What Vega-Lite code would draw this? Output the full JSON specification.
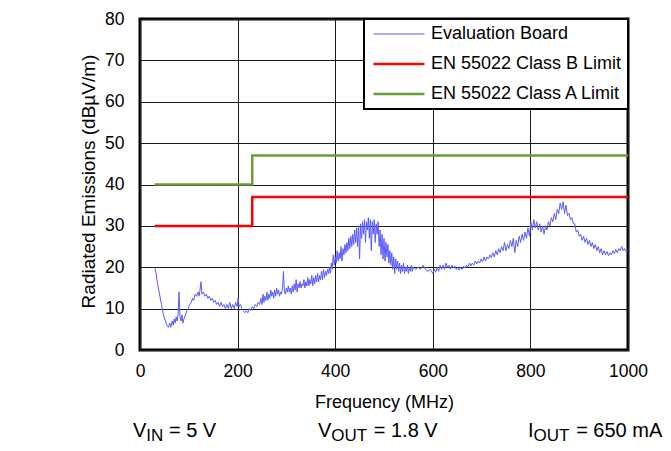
{
  "$schema": "https://vega.github.io/schema/vega-lite/v6.json",
  "width": 488,
  "height": 331,
  "autosize": {"type": "none"},
  "padding": {"left": 140, "top": 19, "right": 43, "bottom": 101},
  "background": "white",
  "config": {
    "font": "Liberation Sans",
    "view": {"stroke": "black", "strokeWidth": 3},
    "axis": {
      "labelFont": "Liberation Sans",
      "titleFont": "Liberation Sans",
      "labelFontSize": 17.5,
      "titleFontSize": 18,
      "titleFontWeight": "normal",
      "labelColor": "black",
      "titleColor": "black",
      "grid": true,
      "gridColor": "#1a1a1a",
      "gridWidth": 1,
      "gridOpacity": 1,
      "ticks": false,
      "domain": false
    },
    "legend": {
      "orient": "top-right",
      "offset": 0,
      "fillColor": "white",
      "strokeColor": "black",
      "strokeWidth": 2,
      "padding": 6,
      "symbolType": "stroke",
      "symbolSize": 2600,
      "symbolStrokeWidth": 2.5,
      "symbolOffset": 20,
      "clipHeight": 18,
      "rowPadding": 12,
      "labelOffset": 23,
      "labelFontSize": 18,
      "labelFont": "Liberation Sans",
      "labelLimit": 400,
      "labelColor": "black"
    }
  },
  "layer": [
    {
      "data": {"values": [
        {"f":30,"v":20},{"f":33,"v":18.5},{"f":36,"v":16},{"f":40,"v":13.5},{"f":44,"v":11},{"f":48,"v":8.5},{"f":52,"v":7},{"f":55,"v":6},{"f":58,"v":5.5},{"f":61,"v":6.5},{"f":63,"v":5.5},{"f":66,"v":7},{"f":68,"v":6},{"f":70,"v":7.5},{"f":72,"v":6.5},{"f":74,"v":8},{"f":76,"v":7},{"f":78,"v":8.5},{"f":80,"v":14},{"f":82,"v":8},{"f":84,"v":7},{"f":86,"v":8.5},{"f":88,"v":6.5},{"f":90,"v":7.5},{"f":93,"v":8.5},{"f":96,"v":9.5},{"f":99,"v":10},{"f":102,"v":11},{"f":105,"v":11.5},{"f":108,"v":12.5},{"f":110,"v":12},{"f":113,"v":13.5},{"f":116,"v":13},{"f":119,"v":14},{"f":121,"v":13},{"f":123,"v":14.5},{"f":125,"v":16.5},{"f":127,"v":13.5},{"f":130,"v":14},{"f":133,"v":13},{"f":136,"v":13.5},{"f":139,"v":12.5},{"f":142,"v":13},{"f":145,"v":12},{"f":148,"v":12.5},{"f":151,"v":11.5},{"f":154,"v":12},{"f":157,"v":11},{"f":160,"v":11.5},{"f":163,"v":10.5},{"f":166,"v":11.5},{"f":169,"v":10.5},{"f":172,"v":11},{"f":175,"v":10},{"f":178,"v":11},{"f":181,"v":10},{"f":184,"v":11.5},{"f":187,"v":10},{"f":190,"v":11},{"f":193,"v":10},{"f":196,"v":11.5},{"f":199,"v":10.5},{"f":201,"v":12.5},{"f":203,"v":10.5},{"f":206,"v":11},{"f":209,"v":10},{"f":212,"v":9.5},{"f":215,"v":9},{"f":218,"v":9.5},{"f":221,"v":9},{"f":224,"v":10},{"f":227,"v":9.5},{"f":230,"v":10.5},{"f":233,"v":10},{"f":236,"v":11},{"f":239,"v":10.5},{"f":242,"v":11.5},{"f":245,"v":11},{"f":248,"v":12.5},{"f":250,"v":11},{"f":252,"v":13.5},{"f":254,"v":11.5},{"f":256,"v":13},{"f":258,"v":12},{"f":260,"v":14},{"f":262,"v":12},{"f":264,"v":13.5},{"f":266,"v":12.5},{"f":268,"v":14.5},{"f":270,"v":13},{"f":272,"v":14},{"f":274,"v":12.5},{"f":276,"v":14.5},{"f":278,"v":13},{"f":280,"v":15},{"f":282,"v":13.5},{"f":284,"v":14.5},{"f":286,"v":13},{"f":288,"v":14},{"f":290,"v":13.5},{"f":292,"v":15},{"f":294,"v":19},{"f":296,"v":14},{"f":298,"v":13.5},{"f":300,"v":15},{"f":302,"v":14},{"f":304,"v":15.5},{"f":306,"v":14},{"f":308,"v":15},{"f":310,"v":13.5},{"f":312,"v":15.5},{"f":314,"v":14},{"f":316,"v":16},{"f":318,"v":14.5},{"f":320,"v":17},{"f":322,"v":14},{"f":324,"v":16},{"f":326,"v":15},{"f":328,"v":16.5},{"f":330,"v":15},{"f":332,"v":16},{"f":334,"v":15.5},{"f":336,"v":17},{"f":338,"v":15},{"f":340,"v":16.5},{"f":342,"v":15.5},{"f":344,"v":17.5},{"f":346,"v":15.5},{"f":348,"v":17},{"f":350,"v":16},{"f":352,"v":18},{"f":354,"v":15.5},{"f":356,"v":17.5},{"f":358,"v":16},{"f":360,"v":18},{"f":362,"v":16.5},{"f":364,"v":18.5},{"f":366,"v":16.5},{"f":368,"v":18},{"f":370,"v":17},{"f":372,"v":19},{"f":374,"v":17},{"f":376,"v":19.5},{"f":378,"v":17.5},{"f":380,"v":19},{"f":382,"v":18},{"f":384,"v":19.5},{"f":386,"v":18.5},{"f":388,"v":20},{"f":390,"v":18.5},{"f":392,"v":21},{"f":394,"v":19.5},{"f":396,"v":23},{"f":398,"v":20.5},{"f":400,"v":22.5},{"f":402,"v":21},{"f":404,"v":24},{"f":406,"v":21.5},{"f":408,"v":23.5},{"f":410,"v":22},{"f":412,"v":25},{"f":414,"v":21.5},{"f":416,"v":24.5},{"f":418,"v":23},{"f":420,"v":25.5},{"f":422,"v":23.5},{"f":424,"v":26},{"f":426,"v":24},{"f":428,"v":27},{"f":430,"v":24.5},{"f":432,"v":27.5},{"f":434,"v":25},{"f":436,"v":28},{"f":438,"v":25.5},{"f":440,"v":29},{"f":442,"v":26},{"f":444,"v":29.5},{"f":446,"v":25},{"f":448,"v":30},{"f":450,"v":22},{"f":452,"v":30.5},{"f":454,"v":27},{"f":456,"v":31},{"f":458,"v":28},{"f":460,"v":31.5},{"f":462,"v":26},{"f":464,"v":31},{"f":466,"v":29},{"f":468,"v":32},{"f":470,"v":27},{"f":472,"v":31.5},{"f":474,"v":24},{"f":476,"v":31},{"f":478,"v":28},{"f":480,"v":31.5},{"f":482,"v":26},{"f":484,"v":30.5},{"f":486,"v":28},{"f":488,"v":31},{"f":490,"v":25},{"f":492,"v":29},{"f":494,"v":23},{"f":496,"v":28},{"f":498,"v":22},{"f":500,"v":27},{"f":502,"v":21.5},{"f":504,"v":26},{"f":506,"v":22.5},{"f":508,"v":25.5},{"f":510,"v":21},{"f":512,"v":24},{"f":514,"v":20.5},{"f":516,"v":23.5},{"f":518,"v":19.5},{"f":520,"v":22.5},{"f":522,"v":18.5},{"f":524,"v":22},{"f":526,"v":19.5},{"f":528,"v":21.5},{"f":530,"v":19},{"f":532,"v":21},{"f":534,"v":18.5},{"f":536,"v":20.5},{"f":538,"v":19},{"f":540,"v":21},{"f":542,"v":18.5},{"f":544,"v":20},{"f":546,"v":19},{"f":548,"v":20.5},{"f":550,"v":18.5},{"f":552,"v":20},{"f":554,"v":19},{"f":556,"v":20.5},{"f":558,"v":19},{"f":560,"v":20},{"f":565,"v":19.5},{"f":570,"v":20},{"f":575,"v":19.5},{"f":580,"v":20.5},{"f":585,"v":19.5},{"f":590,"v":19},{"f":595,"v":19.5},{"f":600,"v":18.5},{"f":603,"v":19.5},{"f":606,"v":18.8},{"f":609,"v":20},{"f":612,"v":19},{"f":615,"v":20.5},{"f":618,"v":19.5},{"f":621,"v":20.5},{"f":624,"v":19.5},{"f":627,"v":21},{"f":630,"v":20},{"f":633,"v":20.5},{"f":636,"v":19.5},{"f":639,"v":20.5},{"f":642,"v":19.8},{"f":645,"v":20.3},{"f":648,"v":19.5},{"f":651,"v":20},{"f":654,"v":19.3},{"f":657,"v":20},{"f":660,"v":19.5},{"f":663,"v":20.3},{"f":666,"v":19.8},{"f":669,"v":20.5},{"f":672,"v":20},{"f":675,"v":21},{"f":678,"v":20.3},{"f":681,"v":21},{"f":684,"v":20.5},{"f":687,"v":21.5},{"f":690,"v":20.8},{"f":693,"v":21.5},{"f":696,"v":21},{"f":699,"v":22},{"f":702,"v":21.3},{"f":705,"v":22.5},{"f":708,"v":21.5},{"f":711,"v":22.5},{"f":714,"v":22},{"f":717,"v":23},{"f":720,"v":22.3},{"f":723,"v":23.5},{"f":726,"v":22.5},{"f":729,"v":24},{"f":732,"v":23},{"f":735,"v":24.5},{"f":738,"v":23.5},{"f":741,"v":25},{"f":744,"v":24},{"f":747,"v":26},{"f":750,"v":24},{"f":753,"v":25.5},{"f":756,"v":24.5},{"f":759,"v":26.5},{"f":762,"v":25},{"f":765,"v":27},{"f":768,"v":23.5},{"f":771,"v":26.5},{"f":774,"v":25},{"f":777,"v":27.5},{"f":780,"v":26},{"f":783,"v":28},{"f":786,"v":26.5},{"f":789,"v":28.5},{"f":792,"v":27},{"f":795,"v":29.5},{"f":798,"v":27.5},{"f":801,"v":31},{"f":804,"v":29},{"f":807,"v":31.5},{"f":810,"v":29.5},{"f":813,"v":31},{"f":816,"v":29},{"f":819,"v":30.5},{"f":822,"v":28.5},{"f":825,"v":30},{"f":828,"v":28},{"f":831,"v":30},{"f":834,"v":29},{"f":837,"v":31},{"f":840,"v":30},{"f":843,"v":32},{"f":846,"v":31},{"f":849,"v":33},{"f":852,"v":31.5},{"f":855,"v":34},{"f":858,"v":33},{"f":861,"v":35.5},{"f":864,"v":34},{"f":867,"v":35.8},{"f":870,"v":33},{"f":873,"v":35},{"f":876,"v":32.5},{"f":879,"v":33},{"f":882,"v":31.5},{"f":885,"v":32},{"f":888,"v":30.5},{"f":891,"v":30.5},{"f":894,"v":28.5},{"f":897,"v":29},{"f":900,"v":27.5},{"f":903,"v":28},{"f":906,"v":26.5},{"f":909,"v":27.5},{"f":912,"v":26},{"f":915,"v":27},{"f":918,"v":25.5},{"f":921,"v":26.5},{"f":924,"v":25},{"f":927,"v":26},{"f":930,"v":24.5},{"f":933,"v":25.5},{"f":936,"v":24},{"f":939,"v":25},{"f":942,"v":23.5},{"f":945,"v":24.5},{"f":948,"v":23},{"f":951,"v":24},{"f":954,"v":23},{"f":957,"v":23.8},{"f":960,"v":22.8},{"f":963,"v":23.5},{"f":966,"v":23},{"f":969,"v":24},{"f":972,"v":23.3},{"f":975,"v":24.3},{"f":978,"v":23.5},{"f":981,"v":24.5},{"f":984,"v":24},{"f":987,"v":25},{"f":990,"v":24},{"f":993,"v":24.5},{"f":996,"v":23.8},{"f":1000,"v":24}
      ]},
      "mark": {"type": "line", "interpolate": "linear", "strokeWidth": 1},
      "encoding": {
        "x": {
          "field": "f", "type": "quantitative",
          "scale": {"domain": [0, 1000], "nice": false},
          "axis": {"values": [0, 200, 400, 600, 800, 1000], "format": "d", "title": "Frequency (MHz)", "labelPadding": 12, "titlePadding": 14, "labelFlush": false, "labelOverlap": false}
        },
        "y": {
          "field": "v", "type": "quantitative",
          "scale": {"domain": [0, 80], "nice": false},
          "axis": {"values": [0, 10, 20, 30, 40, 50, 60, 70, 80], "format": "d", "title": "Radiated Emissions (dBµV/m)", "titleFontSize": 19, "titleY": 162, "labelPadding": 16, "titlePadding": 6, "labelFlush": false, "labelOverlap": false}
        },
        "color": {
          "datum": "Evaluation Board", "type": "nominal",
          "scale": {"domain": ["Evaluation Board", "EN 55022 Class B Limit", "EN 55022 Class A Limit"], "range": ["#5a5aff", "#ff0000", "#6a9e34"]},
          "legend": {
            "title": null,
            "encode": {"symbols": {"update": {"strokeWidth": {"signal": "datum.value === 'Evaluation Board' ? 1 : 2.5"}}}}
          }
        }
      }
    },
    {
      "data": {"values": [
        {"f": 30, "v": 30},
        {"f": 230, "v": 37},
        {"f": 1000, "v": 37}
      ]},
      "mark": {"type": "line", "interpolate": "step-after", "strokeWidth": 2.5},
      "encoding": {
        "x": {"field": "f", "type": "quantitative"},
        "y": {"field": "v", "type": "quantitative"},
        "color": {"datum": "EN 55022 Class B Limit", "type": "nominal"}
      }
    },
    {
      "data": {"values": [
        {"f": 30, "v": 40},
        {"f": 230, "v": 47},
        {"f": 1000, "v": 47}
      ]},
      "mark": {"type": "line", "interpolate": "step-after", "strokeWidth": 2.5},
      "encoding": {
        "x": {"field": "f", "type": "quantitative"},
        "y": {"field": "v", "type": "quantitative"},
        "color": {"datum": "EN 55022 Class A Limit", "type": "nominal"}
      }
    },
    {
      "data": {"values": [
        {"t": "V", "f": -14.3, "v": -21},
        {"t": "= 5 V", "f": 59.2, "v": -21},
        {"t": "V", "f": 364.8, "v": -21},
        {"t": "= 1.8 V", "f": 479, "v": -21},
        {"t": "I", "f": 795.1, "v": -21},
        {"t": "= 650 mA", "f": 893.7, "v": -21}
      ]},
      "mark": {"type": "text", "align": "left", "baseline": "alphabetic", "fontSize": 20, "font": "Liberation Sans", "color": "black"},
      "encoding": {
        "x": {"field": "f", "type": "quantitative"},
        "y": {"field": "v", "type": "quantitative"},
        "text": {"field": "t"}
      }
    },
    {
      "data": {"values": [
        {"t": "IN", "f": 12.9, "v": -21.9},
        {"t": "OUT", "f": 392, "v": -21.9},
        {"t": "OUT", "f": 806.6, "v": -21.9}
      ]},
      "mark": {"type": "text", "align": "left", "baseline": "alphabetic", "fontSize": 17, "font": "Liberation Sans", "color": "black"},
      "encoding": {
        "x": {"field": "f", "type": "quantitative"},
        "y": {"field": "v", "type": "quantitative"},
        "text": {"field": "t"}
      }
    }
  ]
}
